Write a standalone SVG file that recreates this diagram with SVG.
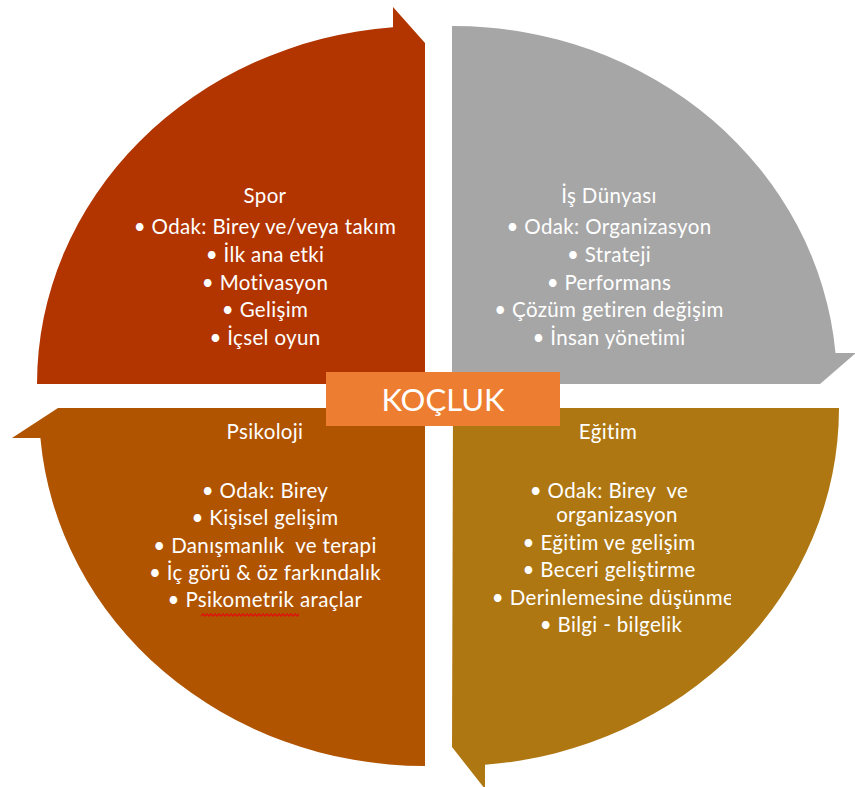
<svg xmlns="http://www.w3.org/2000/svg" width="855" height="787" viewBox="0 0 855 787">
  <style>
    .q { stroke: none; }
    .t { font-family: Lato, "Liberation Sans", sans-serif; font-size: 20.5px; letter-spacing: 0.35px; fill: #ffffff; text-anchor: middle; white-space: pre; }
    .c { font-family: Lato, "Liberation Sans", sans-serif; font-size: 31px; fill: #ffffff; text-anchor: middle; }
  </style>
  <defs>
    <clipPath id="egitimClip">
      <rect x="453" y="408" width="278" height="360"/>
    </clipPath>
  </defs>
  <rect width="855" height="787" fill="#ffffff"/>

  <!-- Top-left quarter: Spor -->
  <g id="spor">
    <path class="q" fill="#B23500" d="M425,384 H37 A388,358 0 0 1 393,27.2 V7 L425,43 Z"/>
    <text class="t" x="265" y="203">Spor</text>
    <text class="t" x="265" y="234">• Odak: Birey ve/veya takım</text>
    <text class="t" x="265" y="262">• İlk ana etki</text>
    <text class="t" x="265" y="290">• Motivasyon</text>
    <text class="t" x="265" y="317">• Gelişim</text>
    <text class="t" x="265" y="345">• İçsel oyun</text>
  </g>

  <!-- Top-right quarter: İş Dünyası -->
  <g id="is-dunyasi">
    <path class="q" fill="#A6A6A6" d="M452,384 V26 A384,358 0 0 1 835.5,353 L856,353 L820,384 Z"/>
    <text class="t" x="609" y="203">İş Dünyası</text>
    <text class="t" x="609" y="234">• Odak: Organizasyon</text>
    <text class="t" x="609" y="262">• Strateji</text>
    <text class="t" x="609" y="290">• Performans</text>
    <text class="t" x="609" y="317">• Çözüm getiren değişim</text>
    <text class="t" x="609" y="345">• İnsan yönetimi</text>
  </g>

  <!-- Bottom-left quarter: Psikoloji -->
  <g id="psikoloji">
    <path class="q" fill="#B05400" d="M425,408 H58 L12,438 H40.4 A386,358 0 0 0 425,766 Z"/>
    <text class="t" x="265" y="439">Psikoloji</text>
    <text class="t" x="265" y="498">• Odak: Birey</text>
    <text class="t" x="265" y="525">• Kişisel gelişim</text>
    <text class="t" x="265" y="553">• Danışmanlık  ve terapi</text>
    <text class="t" x="265" y="580">• İç görü &amp; öz farkındalık</text>
    <text class="t" x="265" y="607">• Psikometrik araçlar</text>
    <!-- spell-check squiggle under "Psikometrik" -->
    <polyline fill="none" stroke="#E01010" stroke-width="1.3"
      points="201,616 203,614 205,616 207,614 209,616 211,614 213,616 215,614 217,616 219,614 221,616 223,614 225,616 227,614 229,616 231,614 233,616 235,614 237,616 239,614 241,616 243,614 245,616 247,614 249,616 251,614 253,616 255,614 257,616 259,614 261,616 263,614 265,616 267,614 269,616 271,614 273,616 275,614 277,616 279,614 281,616 283,614 285,616 287,614 289,616 291,614 293,616 295,614 297,616 299,614"/>
  </g>

  <!-- Bottom-right quarter: Eğitim -->
  <g id="egitim">
    <path class="q" fill="#AE7712" d="M453,408 H839 A386,358 0 0 1 485,764.8 V789 L452,747 Z"/>
    <text class="t" x="608" y="439">Eğitim</text>
    <text class="t" x="609" y="498">• Odak: Birey  ve</text>
    <text class="t" x="617" y="522">organizasyon</text>
    <text class="t" x="609" y="550">• Eğitim ve gelişim</text>
    <text class="t" x="609" y="577">• Beceri geliştirme</text>
    <g clip-path="url(#egitimClip)">
      <text class="t" x="613" y="605">• Derinlemesine düşünme</text>
    </g>
    <text class="t" x="611" y="632">• Bilgi - bilgelik</text>
  </g>

  <!-- Centre label -->
  <g id="kocluk">
    <rect x="326" y="372" width="234" height="54" fill="#ED7D31"/>
    <text class="c" x="443" y="411">KOÇLUK</text>
  </g>
</svg>
